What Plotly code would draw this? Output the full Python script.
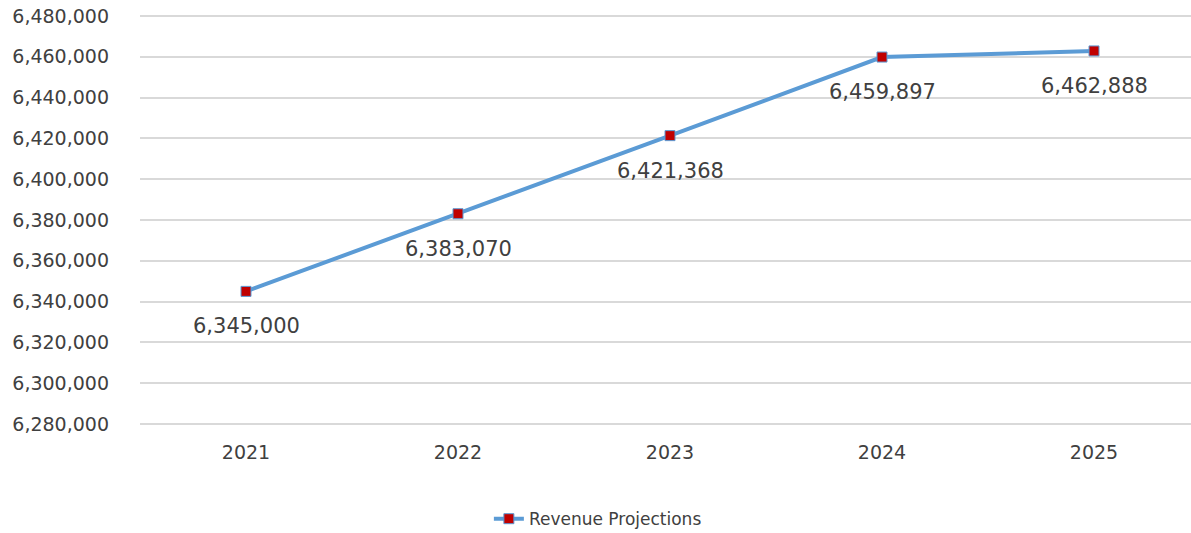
import plotly.graph_objects as go

years = ["2021", "2022", "2023", "2024", "2025"]
revenue = [6345000, 6383070, 6421368, 6459897, 6462888]
series_name = "Revenue Projections"
y_ticks = list(range(6280000, 6480001, 20000))

text_color = "#404040"
font_family = "DejaVu Sans"

fig = go.Figure()
fig.add_trace(go.Scatter(
    x=years, y=revenue, name=series_name, mode="lines+markers",
    line=dict(color="#5B9BD5", width=4),
    marker=dict(symbol="square", size=10, color="#C00000",
                line=dict(color="#5B9BD5", width=1)),
))

for i, y in enumerate(revenue):
    fig.add_annotation(x=i, y=y, xref="x", yref="y", text=f"{y:,}", showarrow=False,
                       yshift=-35, font=dict(family=font_family, size=21, color=text_color))

fig.update_layout(
    width=1191, height=533,
    margin=dict(l=140, r=0, t=14, b=107, autoexpand=False),
    plot_bgcolor="white", paper_bgcolor="white",
    font=dict(family=font_family, color=text_color),
    showlegend=True,
    legend=dict(orientation="h", xref="container", yref="container",
                x=0.502, xanchor="center", y=0.026, yanchor="middle",
                font=dict(family=font_family, size=17, color=text_color)),
)
fig.update_xaxes(type="category", range=[-0.5, 4.4575], showgrid=False,
                 showline=False, zeroline=False, ticks="",
                 tickfont=dict(family=font_family, size=19, color=text_color),
                 ticklabelstandoff=13)
fig.update_yaxes(range=[6279000, 6481000], tickvals=y_ticks,
                 ticktext=[f"{v:,}" for v in y_ticks],
                 showgrid=True, gridcolor="#D9D9D9", gridwidth=2,
                 zeroline=False, showline=False, ticks="",
                 tickfont=dict(family=font_family, size=19, color=text_color),
                 ticklabelstandoff=30)

fig.write_html("out.html")
